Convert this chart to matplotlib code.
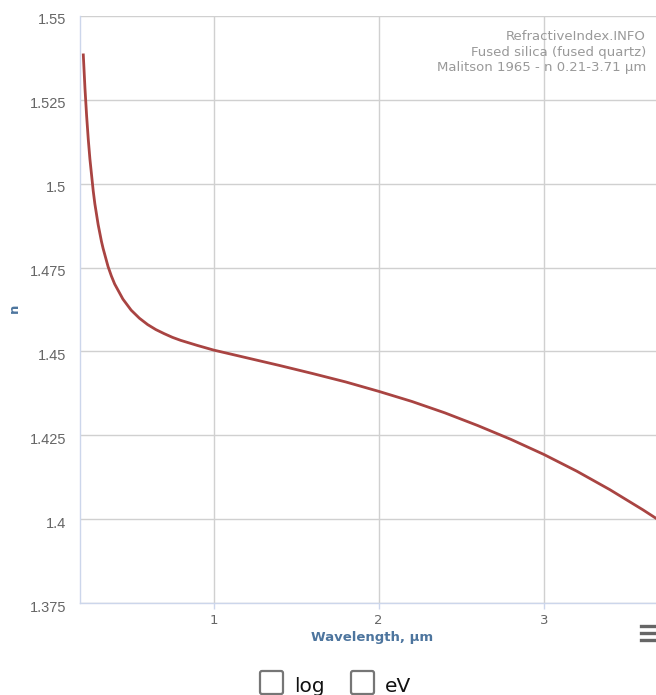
import numpy as np
import matplotlib
matplotlib.use("Agg")
import matplotlib.pyplot as plt
from matplotlib.patches import FancyBboxPatch
from matplotlib.lines import Line2D
import matplotlib.transforms as mtransforms

# values
wavelength = [0.21, 0.22, 0.23, 0.24, 0.25, 0.27, 0.28, 0.30, 0.32, 0.33, 0.36, 0.38,
              0.40, 0.42, 0.45, 0.50, 0.55, 0.60, 0.65, 0.70, 0.75, 0.80, 0.90, 1.00,
              1.20, 1.40, 1.60, 1.80, 2.00, 2.20, 2.40, 2.60, 2.80, 3.00, 3.20, 3.40,
              3.60, 3.71]
n_index = [1.5384, 1.5285, 1.5203, 1.5133, 1.5074, 1.4979, 1.4940, 1.4878, 1.4828, 1.4807,
           1.4753, 1.4725, 1.4701, 1.4683, 1.4656, 1.4623, 1.4599, 1.4580, 1.4565, 1.4553,
           1.4542, 1.4533, 1.4518, 1.4504, 1.4481, 1.4458, 1.4434, 1.4409, 1.4381, 1.4351,
           1.4317, 1.4279, 1.4238, 1.4193, 1.4143, 1.4088, 1.4028, 1.3993]

yticks = [1.375, 1.4, 1.425, 1.45, 1.475, 1.5, 1.525, 1.55]
ytick_labels = ["1.375", "1.4", "1.425", "1.45", "1.475", "1.5", "1.525", "1.55"]
xticks = [1, 2, 3]
credits = ["RefractiveIndex.INFO", "Fused silica (fused quartz)", "Malitson 1965 - n 0.21-3.71 µm"]

W, H = 656, 695
fig = plt.figure(figsize=(W/100, H/100), dpi=100)
ax = fig.add_axes([80/W, 1-603/H, (656-80)/W, (603-16)/H])

ax.plot(wavelength, n_index, color="#a94442", lw=2, solid_joinstyle="round", clip_on=True)

ax.set_xlim(0.19, 3.68)
ax.set_ylim(1.375, 1.55)
ax.set_yticks(yticks)
ax.set_yticklabels(ytick_labels)
ax.set_xticks(xticks)
ax.set_xticklabels([str(v) for v in xticks])

ax.grid(True, color="#d0d0d0", lw=1)
ax.set_axisbelow(True)
for s in ["top", "right"]:
    ax.spines[s].set_visible(False)
for s in ["left", "bottom"]:
    ax.spines[s].set_color("#ccd6eb")
    ax.spines[s].set_linewidth(1)

ax.tick_params(axis="y", length=0, pad=10, labelsize=10.5, labelcolor="#666666")
ax.tick_params(axis="x", length=4, width=1, color="#ccd6eb", pad=4, labelsize=9.5, labelcolor="#666666")
for lab in ax.get_yticklabels():
    lab.set_fontfamily("Liberation Sans")
    lab.set_transform(lab.get_transform() + mtransforms.ScaledTranslation(0, -3/100, fig.dpi_scale_trans))

fig.text(372/W, 1-638/H, "Wavelength, µm", ha="center", va="center",
         fontsize=9.5, fontweight="bold", color="#4d759e")
fig.text(14/W, 1-308/H, "n", ha="center", va="center", rotation=90,
         fontsize=9.5, fontweight="bold", color="#4d759e")

for i, line in enumerate(credits):
    fig.text(646/W, 1-(37 + i*15.5)/H, line, ha="right", va="center",
             fontsize=9.5, color="#999999")

# export menu icon
for yy in [626, 633, 640]:
    fig.add_artist(Line2D([641/W, 656/W], [1-yy/H, 1-yy/H], color="#666666", lw=2.4,
                          transform=fig.transFigure))

# checkboxes
for x0, label in [(260, "log"), (351, "eV")]:
    box = FancyBboxPatch((x0/W, 1-694/H), 23/W, 23/H,
                         boxstyle="round,pad=0,rounding_size=0.003",
                         transform=fig.transFigure, fill=False,
                         edgecolor="#767676", lw=1.6)
    fig.add_artist(box)
    fig.text((x0+34)/W, 1-692/H, label, ha="left", va="baseline",
             fontsize=14.5, color="#111111")

fig.savefig("out.png", dpi=100)
